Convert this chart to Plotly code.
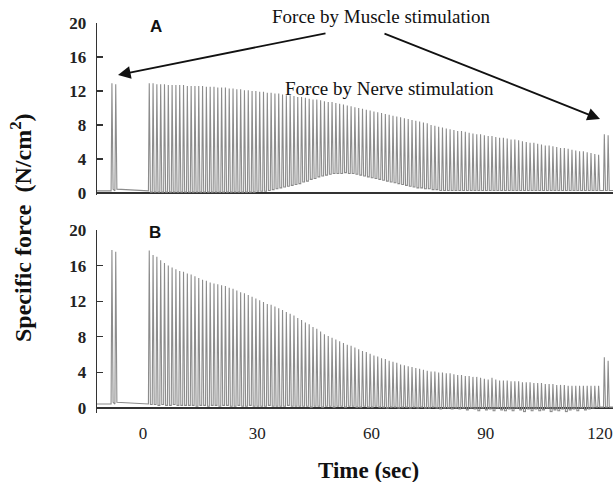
import plotly.graph_objects as go

# ---------------- data ----------------
stim_rate_hz = 1.0           # nerve stimulation, 1 pulse per second
nerve_first_t = 1.4          # time of first nerve-evoked twitch (s)

# Panel A: peak specific force of each nerve-evoked twitch (N/cm2)
A_nerve_peaks = [
    12.9, 12.9, 12.8, 12.8, 12.8, 12.7, 12.7, 12.7, 12.7, 12.7,
    12.6, 12.6, 12.6, 12.6, 12.6, 12.5, 12.5, 12.5, 12.4, 12.4,
    12.4, 12.3, 12.3, 12.2, 12.2, 12.1, 12.1, 12.0, 12.0, 11.9,
    11.9, 11.8, 11.8, 11.7, 11.7, 11.6, 11.5, 11.5, 11.4, 11.3,
    11.3, 11.2, 11.1, 11.0, 11.0, 10.9, 10.8, 10.7, 10.7, 10.6,
    10.5, 10.4, 10.3, 10.2, 10.1, 10.0, 9.9, 9.8, 9.7, 9.6,
    9.5, 9.4, 9.3, 9.2, 9.1, 9.0, 8.9, 8.8, 8.7, 8.6,
    8.5, 8.4, 8.3, 8.2, 8.0, 7.9, 7.8, 7.7, 7.6, 7.5,
    7.4, 7.3, 7.3, 7.2, 7.1, 7.0, 6.9, 6.9, 6.8, 6.7,
    6.7, 6.6, 6.5, 6.5, 6.4, 6.3, 6.3, 6.2, 6.1, 6.0,
    5.9, 5.9, 5.8, 5.7, 5.6, 5.6, 5.5, 5.4, 5.3, 5.3,
    5.2, 5.1, 5.0, 4.9, 4.9, 4.8, 4.7, 4.6, 4.5,
]
# Panel A: force level between twitches (incomplete relaxation hump)
A_nerve_troughs = [
    0.1, 0.1, 0.1, 0.1, 0.1, 0.1, 0.1, 0.1, 0.1, 0.1,
    0.1, 0.1, 0.1, 0.1, 0.1, 0.1, 0.1, 0.1, 0.1, 0.1,
    0.1, 0.1, 0.1, 0.1, 0.1, 0.1, 0.1, 0.1, 0.2, 0.2,
    0.2, 0.3, 0.4, 0.5, 0.6, 0.7, 0.8, 0.9, 1.0, 1.1,
    1.3, 1.4, 1.6, 1.7, 1.9, 2.0, 2.1, 2.2, 2.3, 2.3,
    2.3, 2.4, 2.3, 2.3, 2.2, 2.1, 2.0, 1.9, 1.8, 1.7,
    1.6, 1.5, 1.4, 1.3, 1.2, 1.1, 1.0, 0.9, 0.8, 0.7,
    0.6, 0.6, 0.5, 0.5, 0.4, 0.4, 0.3, 0.3, 0.3, 0.3,
    0.3, 0.3, 0.3, 0.3, 0.3, 0.3, 0.3, 0.3, 0.3, 0.3,
    0.3, 0.3, 0.3, 0.3, 0.3, 0.3, 0.3, 0.3, 0.3, 0.3,
    0.3, 0.3, 0.3, 0.3, 0.3, 0.3, 0.3, 0.3, 0.3, 0.3,
    0.3, 0.3, 0.3, 0.3, 0.3, 0.3, 0.3, 0.3, 0.3,
]
# Panel B
B_nerve_peaks = [
    17.7, 17.2, 17.0, 16.6, 16.3, 16.0, 15.8, 15.6, 15.4, 15.3,
    15.1, 15.0, 14.8, 14.6, 14.4, 14.3, 14.1, 14.0, 13.9, 13.8,
    13.7, 13.5, 13.4, 13.2,
    13.0, 12.9, 12.7, 12.5, 12.3, 12.1, 11.9, 11.7, 11.6, 11.4,
    11.2, 11.0, 10.8, 10.6, 10.4, 10.1, 9.9, 9.6, 9.4, 9.1,
    8.9, 8.6, 8.3, 8.1, 7.9, 7.7, 7.5, 7.3, 7.1, 7.0,
    6.8, 6.6, 6.4, 6.3, 6.1, 5.9, 5.8, 5.6, 5.5, 5.3,
    5.2, 5.1, 4.9, 4.8, 4.7, 4.6, 4.5, 4.4, 4.3, 4.2,
    4.1, 4.1, 4.0, 4.0, 3.9, 3.9, 3.8, 3.7, 3.7, 3.6,
    3.6, 3.5, 3.5, 3.4, 3.3, 3.2, 3.4, 3.2, 3.1, 3.1,
    3.1, 3.0, 3.0, 3.0, 2.9, 2.9, 2.9, 2.8, 2.8, 2.8,
    2.7, 2.7, 2.7, 2.6, 2.6, 2.6, 2.5, 2.5, 2.5, 2.5,
    2.5, 2.5, 2.5, 2.5, 2.5,
]
B_nerve_troughs = [
    0.4, 0.4, 0.3, 0.4, 0.3, 0.3, 0.4, 0.3, 0.3, 0.3,
    0.3, 0.3, 0.2, 0.3, 0.3, 0.2, 0.3, 0.3, 0.2, 0.3,
    0.3, 0.2, 0.2, 0.3, 0.2, 0.2, 0.3, 0.2, 0.2, 0.2,
    0.2, 0.3, 0.2, 0.2, 0.2, 0.2, 0.3, 0.2, 0.2, 0.2,
    0.2, 0.2, 0.1, 0.2, 0.2, 0.1, 0.2, 0.2, 0.1, 0.2,
    0.2, 0.1, 0.2, 0.2, 0.1, 0.1, 0.2, 0.1, 0.1, 0.2,
    0.1, 0.1, 0.0, 0.1, 0.1, 0.0, 0.1, 0.1, 0.0, 0.1,
    0.0, 0.1, 0.0, 0.0, 0.1, 0.0, -0.1, 0.0, 0.0, -0.1,
    0.0, -0.1, 0.0, -0.2, 0.0, -0.1, -0.3, 0.0, -0.2, -0.1,
    -0.3, 0.0, -0.2, -0.3, -0.1, -0.3, 0.0, -0.2, -0.4, -0.1,
    -0.3, -0.1, -0.3, -0.2, 0.0, -0.4, -0.2, -0.3, -0.1, -0.4,
    -0.2, -0.1, -0.3, 0.0, -0.2, -0.1, 0.0, 0.1, 0.1,
]

# Direct muscle stimulation twitches (before and after nerve train)
muscle_times = [-8.4, -7.4, 120.9, 121.9]
A_muscle_peaks = [12.9, 12.8, 6.9, 6.8]
B_muscle_peaks = [17.75, 17.55, 5.7, 5.3]

# resting baseline before the nerve train
A_baseline = 0.25
B_baseline = 0.45

x_tick_vals = [0, 30, 60, 90, 120]
y_tick_vals = [0, 4, 8, 12, 16, 20]

# ---------------- build traces ----------------
RISE, FALL = 0.22, 0.52


def twitch_trace(nerve_peaks, nerve_troughs, muscle_peaks, base):
    xs, ys = [-12.1], [base]
    for t, p in zip(muscle_times[:2], muscle_peaks[:2]):
        xs += [t, t + RISE, t + FALL]
        ys += [base, p, base + 0.2]
    xs.append(nerve_first_t - 0.05)
    ys.append(base)
    prev = base
    for k, (p, r) in enumerate(zip(nerve_peaks, nerve_troughs)):
        t = nerve_first_t + k / stim_rate_hz
        xs += [t, t + RISE, t + FALL]
        ys += [prev, p, r]
        prev = r
    for t, p in zip(muscle_times[2:], muscle_peaks[2:]):
        xs += [t, t + RISE, t + FALL]
        ys += [prev, p, prev]
    xs.append(123.4)
    ys.append(prev)
    return xs, ys


ax_, ay_ = twitch_trace(A_nerve_peaks, A_nerve_troughs, A_muscle_peaks, A_baseline)
bx_, by_ = twitch_trace(B_nerve_peaks, B_nerve_troughs, B_muscle_peaks, B_baseline)

TRACE = dict(color="#8c8c8c", width=1.1)
fig = go.Figure()
fig.add_trace(go.Scatter(x=ax_, y=ay_, mode="lines", line=TRACE,
                         xaxis="x", yaxis="y", showlegend=False, hoverinfo="skip"))
fig.add_trace(go.Scatter(x=bx_, y=by_, mode="lines", line=TRACE,
                         xaxis="x2", yaxis="y2", showlegend=False, hoverinfo="skip"))

W, H = 614, 482
XR = [-12.1, 123.4]
XDOM = [97 / W, 613 / W]

SERIF = "Liberation Serif"
yaxis_common = dict(
    tickvals=y_tick_vals, ticktext=[f"<b>{v}</b>" for v in y_tick_vals],
    ticks="inside", ticklen=6, tickwidth=1.2,
    tickcolor="#333", showline=True, linecolor="#333", linewidth=1.3,
    showgrid=False, zeroline=True, zerolinecolor="#333", zerolinewidth=1.6,
    tickfont=dict(family=SERIF, size=17, color="#222"),
    ticklabelstandoff=6, fixedrange=True, automargin=False,
)
ya = dict(yaxis_common); ya.update(range=[-0.2, 20], domain=[1 - 194.7 / H, 1 - 23 / H], anchor="x")
yb = dict(yaxis_common); yb.update(range=[-0.5, 20], domain=[1 - 412.5 / H, 1 - 230 / H], anchor="x2")

fig.update_layout(
    width=W, height=H,
    margin=dict(l=0, r=0, t=0, b=0, pad=0, autoexpand=False),
    paper_bgcolor="white", plot_bgcolor="white",
    xaxis=dict(domain=XDOM, range=XR, showline=False, showgrid=False, zeroline=False,
               showticklabels=False, ticks="", anchor="y", automargin=False, fixedrange=True),
    xaxis2=dict(domain=XDOM, range=XR, showline=False, showgrid=False, zeroline=False,
                tickvals=x_tick_vals, ticks="", anchor="y2", automargin=False, fixedrange=True,
                tickfont=dict(family=SERIF, size=17, color="#222"),
                ticklabelstandoff=8),
    yaxis=ya, yaxis2=yb,
)

ann = []
for lab, (px, py) in [("A", (156, 26)), ("B", (155, 232))]:
    ann.append(dict(text=f"<b>{lab}</b>", x=px / W, y=1 - py / H, xref="paper", yref="paper",
                    showarrow=False, font=dict(family="Liberation Sans", size=17, color="#111"),
                    xanchor="center", yanchor="middle"))
ann.append(dict(text="Force by Muscle stimulation", x=381 / W, y=1 - 17 / H,
                xref="paper", yref="paper", showarrow=False,
                font=dict(family=SERIF, size=19, color="#111"),
                xanchor="center", yanchor="middle"))
ann.append(dict(text="Force by Nerve stimulation", x=390 / W, y=1 - 88 / H,
                xref="paper", yref="paper", showarrow=False,
                font=dict(family=SERIF, size=19, color="#111"),
                xanchor="center", yanchor="middle"))
for (hx, hy), (tx, ty) in [((118, 75), (327, 33)), ((600, 119), (383, 33))]:
    ann.append(dict(text="", x=hx / W, y=1 - hy / H, xref="paper", yref="paper",
                    showarrow=True, ax=tx - hx, ay=ty - hy, arrowhead=2,
                    arrowsize=1.4, arrowwidth=1.8, arrowcolor="#111", standoff=0))
ann.append(dict(text="<b>Time (sec)</b>", x=368 / W, y=1 - 470 / H, xref="paper", yref="paper",
                showarrow=False, font=dict(family=SERIF, size=23, color="#111"),
                xanchor="center", yanchor="middle"))
ann.append(dict(text="<b>Specific force  (N/cm<sup>2</sup>)</b>", x=21 / W, y=1 - 228 / H,
                xref="paper", yref="paper", showarrow=False, textangle=-90,
                font=dict(family=SERIF, size=24, color="#111"),
                xanchor="center", yanchor="middle"))
fig.update_layout(annotations=ann)

# remove the browser's default 8px page margin so the figure fills the window exactly
fig.write_html("out.html", config={"displayModeBar": False, "staticPlot": True},
               post_script="document.body.style.margin='0px';document.body.style.overflow='hidden';")
